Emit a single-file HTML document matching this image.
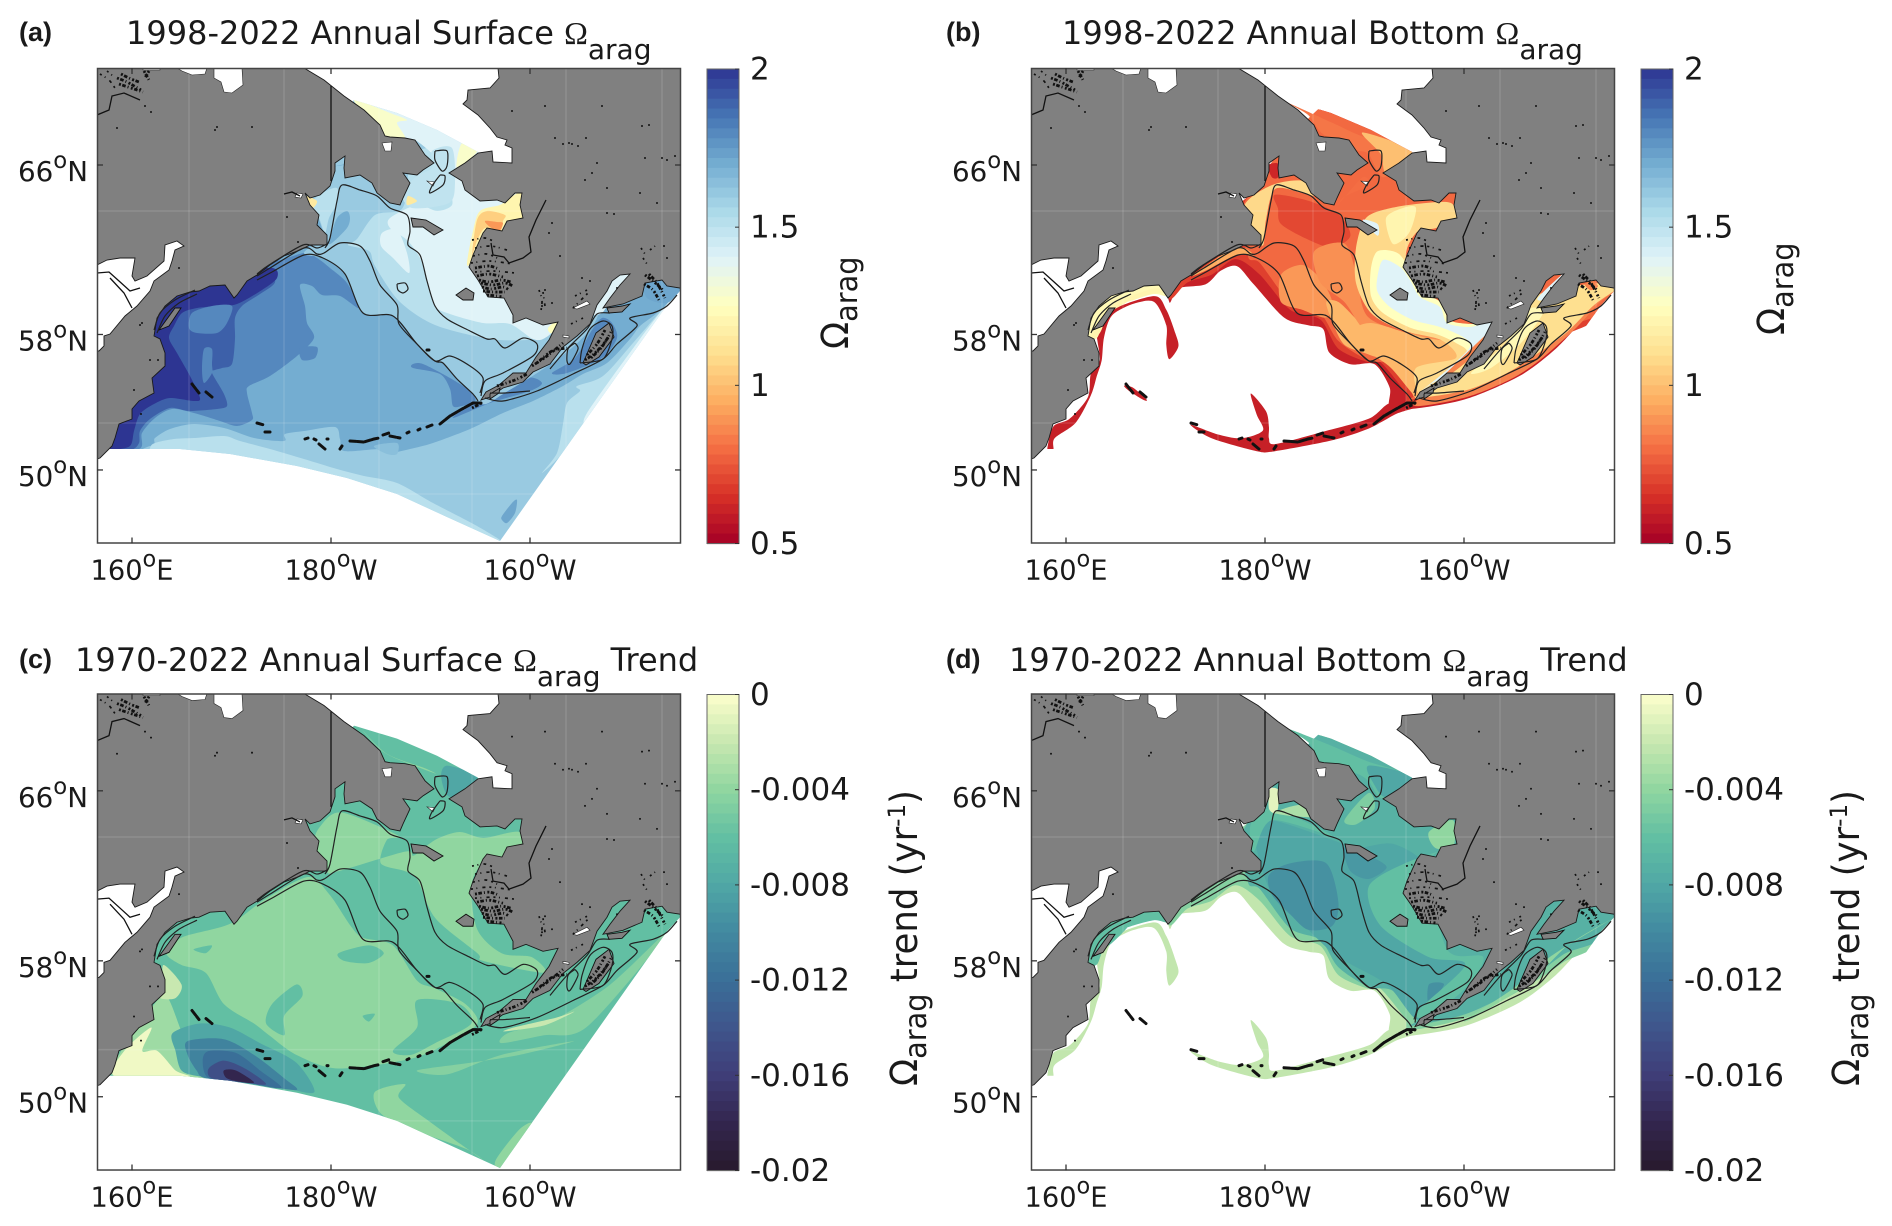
<!DOCTYPE html>
<html lang="en">
<head>
<meta charset="utf-8">
<title>Bering Sea aragonite saturation maps</title>
<style>
html,body{margin:0;padding:0;background:#fff;}
svg{display:block;}
text{font-family:"DejaVu Sans","Liberation Sans",sans-serif;fill:#1a1a1a;}
.panel-tag{font-family:"Liberation Sans",sans-serif;font-weight:700;font-size:27px;}
.omega{font-family:"Liberation Serif",serif;}
</style>
</head>
<body>
<svg id="figure" xmlns="http://www.w3.org/2000/svg" width="1892" height="1226" viewBox="0 0 1892 1226">
<defs id="defs"></defs>
</svg>
<script>
// ---------- axis data ----------
const latTicks = [66, 58, 50];
const lonTicks = [160, 180, 200];
const lonTickLabels = ['160', '180', '160'];
const lonTickSuffix = ['E', 'W', 'W'];
const omegaTicks = [2, 1.5, 1, 0.5];
const omegaTickLabels = ['2', '1.5', '1', '0.5'];
const trendTicks = [0, -0.004, -0.008, -0.012, -0.016, -0.02];
const trendTickLabels = ['0', '-0.004', '-0.008', '-0.012', '-0.016', '-0.02'];

// ---------- colormaps ----------
const omegaStopValues = [0.5, 0.65, 0.8, 0.95, 1.1, 1.25, 1.4, 1.55, 1.7, 1.85, 2.0];
const omegaStopColors = ['#a50026', '#d73027', '#f46d43', '#fdae61', '#fee090', '#ffffbf', '#e0f3f8', '#abd9e9', '#74add1', '#4575b4', '#2d3592'];
const trendStopValues = [0, -0.002, -0.004, -0.006, -0.008, -0.01, -0.012, -0.014, -0.016, -0.018, -0.02];
const trendStopColors = ['#fdfecc', '#c8e8b0', '#90d6a0', '#62bfa3', '#50a7a5', '#4289a0', '#3a6f98', '#3f558c', '#3f3d78', '#33264e', '#281a2c'];

// ---------- geography (map units, pixels from the panel corner) ----------
const seaOutline = [[207,0],[401,0],[402,10],[393,20],[371,22],[370,32],[366,36],[381,47],[393,60],[400,69],[410,72],[408,77],[415,80],[415,95],[396,94],[395,83],[381,85],[368,95],[352,105],[365,113],[368,122],[383,133],[400,132],[408,135],[418,125],[425,125],[423,137],[426,150],[410,153],[405,163],[390,160],[386,165],[376,187],[372,199],[381,212],[391,229],[407,230],[416,247],[416,255],[429,250],[446,257],[461,254],[452,272],[439,289],[429,305],[416,305],[402,317],[389,324],[384,332],[393,329],[406,320],[426,314],[436,304],[453,296],[466,279],[480,268],[493,256],[496,248],[500,237],[510,223],[515,213],[523,207],[533,206],[523,217],[513,230],[506,240],[526,236],[545,228],[548,215],[565,212],[570,218],[583,220],[584,222],[584,475],[0,475],[0,391],[3,390],[15,378],[18,370],[22,356],[35,351],[35,341],[42,333],[57,325],[55,310],[68,298],[68,285],[63,271],[57,268],[60,250],[68,238],[80,228],[93,224],[102,223],[113,218],[128,217],[137,230],[140,227],[150,213],[160,207],[173,197],[187,188],[203,182],[213,177],[230,177],[230,167],[220,157],[222,147],[213,137],[208,125],[213,130],[223,127],[233,118],[238,103],[238,95],[248,88],[247,100],[248,110],[263,107],[275,115],[280,125],[293,135],[303,137],[306,130],[313,115],[306,105],[320,107],[326,102],[337,95],[328,87],[318,72],[308,70],[293,69],[288,68],[283,57],[267,42],[247,28],[227,12]];
const modelDomain = [[0,381],[83,381],[133,386],[200,398],[250,410],[300,426],[350,449],[403,473],[490,350],[570,237],[584,222],[584,150],[450,125],[385,100],[381,84],[340,62],[300,45],[257,32],[200,100],[100,200],[0,300]];
const okhotskSea = [[0,197],[10,192],[23,190],[38,190],[35,208],[38,213],[50,208],[67,193],[68,177],[80,173],[87,178],[78,182],[75,193],[72,202],[57,213],[53,223],[40,238],[28,248],[13,266],[7,268],[7,278],[2,283],[0,283]];
const whiteLakes = [[[117,0],[145,0],[146,17],[135,25],[127,24],[124,14],[117,10]],[[80,0],[110,0],[108,6],[95,7],[85,3]],[[46,0],[63,0],[63,2],[46,2]],[[285,75],[295,74],[294,83],[288,83]],[[200,125],[206,126],[204,130],[198,129]],[[330,113],[338,114],[336,118]],[[476,240],[490,233],[493,236],[480,241]],[[466,267],[472,268],[472,270],[466,269]]];
const islandOutlines = [[[314,150],[329,152],[346,162],[337,167],[326,159],[316,159]],[[359,227],[369,220],[377,225],[376,232],[366,232]],[[62,262],[78,240],[84,240],[72,258]],[[486,295],[499,265],[512,255],[517,269],[502,289],[489,297]],[[510,240],[525,238],[533,236],[525,244],[512,245]],[[393,326],[403,320],[402,325],[393,331]]];
const islandChains = [[[160,355],[167,357]],[[168,364],[173,364]],[[208,371],[211,370]],[[222,376],[228,381]],[[253,373],[267,374],[277,371],[282,370]],[[286,367],[292,365]],[[293,368],[303,370]],[[310,365],[312,364]],[[321,362],[323,361]],[[330,359],[335,357]],[[343,356],[353,348],[365,341],[376,335],[384,335]],[[95,316],[102,325]],[[109,324],[115,329]],[[330,282],[332,282]],[[217,371],[219,372]],[[230,371],[231,371]],[[243,381],[245,378]]];
const denseClutter = [[[382,212],[392,214],[404,212],[414,214]],[[384,215],[396,217],[408,215],[416,218]],[[385,219],[394,221],[406,219],[412,222]],[[386,223],[396,224],[408,224]],[[390,227],[400,228],[406,229]],[[380,208],[392,206],[406,209]],[[378,200],[392,198],[402,201]],[[488,292],[498,285],[508,274],[514,264]],[[490,287],[500,276],[508,262]],[[494,290],[504,280],[512,268]],[[548,207],[556,213],[566,222]],[[552,206],[560,215],[568,230]],[[547,216],[556,222],[562,232]],[[20,10],[30,14],[44,22]],[[24,6],[34,11],[42,14]],[[22,16],[34,20],[46,24]],[[47,3],[52,12]],[[52,3],[48,10]],[[400,318],[418,312],[430,306]],[[435,298],[450,288],[466,275]],[[440,295],[455,283],[470,280]],[[375,340],[385,335]]];
const sparseClutter = [[[375,172],[388,170],[398,174]],[[378,180],[394,178],[410,182]],[[376,188],[390,186],[404,192]],[[374,195],[392,193],[416,196]],[[378,204],[396,203],[418,205]],[[442,222],[445,232],[444,243]],[[446,224],[448,238]],[[476,240],[484,232],[492,224]],[[478,228],[490,222]],[[474,256],[486,250]],[[3,6],[12,12],[18,20]],[[10,3],[16,8]],[[544,180],[548,186]],[[553,182],[558,178]],[[546,190],[550,196]]];
const inlandLines = [[[0,47],[12,42],[15,28],[27,25],[43,32]],[[449,132],[439,152],[432,169],[434,184],[426,190],[412,195],[407,189],[396,187],[394,175]],[[234,18],[234,113]],[[187,126],[195,124],[203,128]],[[0,205],[12,204],[22,213],[33,223],[43,220]],[[13,210],[27,225],[35,240]]];
const specks = [[20,60],[48,38],[54,44],[118,62],[120,59],[155,59],[190,149],[201,174],[82,200],[45,255],[43,257],[61,292],[53,292],[37,322],[44,346],[415,43],[448,38],[505,38],[545,58],[552,57],[458,70],[466,76],[472,75],[475,76],[481,78],[489,70],[500,95],[488,112],[495,105],[510,120],[543,125],[560,135],[510,145],[517,146],[565,90],[570,92],[578,88],[548,90],[585,100],[455,155],[452,165],[463,188],[567,178],[570,190],[520,220],[485,210],[493,213],[448,222],[445,238],[455,235]];
const isobath200 = [[160,212],[175,204],[207,187],[226,190],[248,206],[266,245],[296,248],[320,276],[338,293],[346,295],[360,311],[376,326],[381,333]];
const isobath100 = [[160,208],[173,200],[207,180],[220,186],[227,185],[243,175],[263,178],[273,193],[283,217],[300,237],[302,256],[320,276],[338,293],[353,288],[373,298],[386,310],[383,325]];
const isobath50 = [[228,180],[233,170],[240,133],[245,117],[263,122],[280,128],[293,140],[310,147],[313,163],[311,177],[323,187],[330,213],[338,238],[350,251],[373,263],[390,271],[398,271],[408,280],[426,270],[440,276],[436,288],[406,305],[388,313],[384,328]];
const shelfLines = [[[388,330],[406,333],[440,323],[476,306],[506,291],[520,276],[540,258],[533,250],[556,245],[570,238],[580,227]],[[393,325],[408,325],[433,323]],[[483,295],[506,291],[515,271],[515,258],[506,253],[493,261],[485,281],[483,295]],[[478,275],[481,281],[473,296],[470,293],[471,281],[478,275]],[[453,301],[470,281],[490,261],[500,246],[513,245]],[[338,83],[350,83],[350,98],[345,103],[338,92],[338,83]],[[343,107],[348,108],[346,117],[333,125],[335,118],[343,107]],[[57,262],[63,245],[78,232],[98,222]],[[60,265],[68,248],[82,235],[100,226]],[[160,206],[172,197],[206,177],[220,180],[230,176]],[[300,216],[308,215],[311,221],[306,225],[301,222],[300,216]]];
const gridMeridians = [92, 187, 282, 375, 469, 565];
const gridParallels = [143, 355, 426];

// ---------- filled contour bands : Ω surface (map units) ----------
const surfaceBands = [
 {v:1.6,p:[[0,381],[403,475],[584,222],[584,100],[200,0],[0,200]]},
 {v:1.7,p:[[53,378],[58,370],[73,361],[97,356],[127,360],[157,370],[187,373],[188,366],[207,363],[238,359],[243,371],[247,383],[283,381],[293,385],[313,381],[336,375],[373,361],[406,345],[436,333],[466,318],[486,306],[510,295],[533,271],[543,258],[560,245],[584,222],[584,150],[400,100],[230,100],[0,200],[0,381]]},
 {v:1.8,p:[[42,381],[45,365],[58,350],[75,341],[97,345],[123,353],[140,358],[155,352],[155,345],[150,325],[152,318],[173,308],[200,288],[217,270],[210,255],[208,238],[203,217],[215,218],[225,227],[243,228],[262,240],[250,215],[233,200],[220,190],[207,185],[170,195],[100,200],[0,250],[0,381]]},
 {v:1.9,p:[[33,382],[42,375],[43,363],[53,351],[73,340],[92,343],[120,341],[130,338],[127,326],[115,305],[118,302],[125,300],[135,296],[138,271],[138,250],[145,238],[160,228],[175,218],[178,212],[170,203],[130,205],[60,225],[0,300],[0,382]]},
 {v:2.0,p:[[15,382],[33,378],[37,363],[43,346],[57,336],[73,330],[97,333],[103,330],[93,308],[80,285],[72,270],[77,258],[85,245],[100,240],[120,238],[140,236],[165,222],[180,210],[175,200],[130,205],[60,225],[0,300],[0,382]]},
 {v:1.8,p:[[92,260],[95,245],[115,238],[135,238],[130,255],[120,265],[100,265]]},
 {v:1.8,p:[[107,281],[115,281],[115,296],[115,305],[107,315],[105,301]]},
 {v:1.8,p:[[203,280],[220,279],[218,290],[205,292]]},
 {v:1.8,p:[[316,296],[326,296],[353,310],[376,325],[378,333],[365,338],[356,338],[353,321],[343,306],[316,300]]},
 {v:1.8,p:[[356,350],[393,335],[433,323],[445,315],[430,310],[395,330],[375,335]]},
 {v:1.8,p:[[455,305],[478,290],[495,262],[505,250],[515,255],[520,270],[505,290],[470,305]]},
 {v:1.6,p:[[207,185],[226,190],[248,206],[266,245],[296,248],[320,276],[338,293],[346,295],[360,311],[376,326],[381,333],[400,330],[500,250],[500,100],[230,100],[225,165]]},
 {v:1.7,p:[[233,170],[240,150],[250,143],[253,150],[250,160],[235,175],[230,175]]},
 {v:1.51,p:[[302,143],[278,147],[260,171],[251,177],[272,183],[278,198],[302,233],[338,257],[393,271],[429,272],[441,268],[459,253],[500,200],[500,100],[330,80],[310,130]]},
 {v:1.51,p:[[213,137],[225,125],[240,120],[240,135],[232,150],[228,165],[222,150]]},
 {v:1.4,p:[[293,160],[310,172],[323,190],[330,213],[338,238],[353,246],[386,255],[413,256],[436,271],[448,270],[463,255],[500,200],[440,110],[355,110],[353,120],[355,137],[340,143],[320,137],[293,150]]},
 {v:1.4,p:[[285,165],[300,162],[310,185],[312,205],[296,190],[284,178]]},
 {v:1.4,p:[[257,32],[300,45],[340,62],[381,82],[352,105],[340,90],[318,72],[300,70],[285,60]]},
 {v:1.49,p:[[335,83],[355,80],[358,115],[352,135],[315,140],[305,125],[320,108],[335,100]]},
 {v:1.28,p:[[257,32],[293,45],[310,52],[300,55],[308,70],[290,70],[280,58]]},
 {v:1.28,p:[[365,75],[381,82],[360,100]]},
 {v:1.2,p:[[370,197],[376,163],[383,143],[403,137],[410,132],[421,125],[426,127],[423,137],[426,150],[408,157],[403,165],[388,162],[380,187]]},
 {v:1.05,p:[[380,152],[390,143],[408,147],[406,153],[403,163],[388,160],[380,173],[375,187]]},
 {v:0.9,p:[[388,153],[400,154],[406,155],[402,163],[393,159]]},
 {v:1.25,p:[[451,260],[463,250],[455,265]]},
 {v:1.15,p:[[208,128],[220,133],[215,140]]},
 {v:1.15,p:[[311,128],[320,133],[310,137]]},
 {v:1.51,p:[[570,236],[536,275],[506,308],[480,318],[483,323],[470,335],[466,356],[460,385],[445,405],[470,380],[530,300],[584,222]]},
 {v:1.4,p:[[570,236],[540,275],[490,345],[495,350],[550,275],[584,222]]},
 {v:1.51,p:[[53,380],[58,375],[77,371],[97,370],[127,368],[143,373],[173,381],[207,391],[240,401],[267,408],[300,415],[336,435],[380,458],[405,475],[350,460],[300,440],[200,410],[100,395],[50,395]]},
 {v:1.64,p:[[277,378],[300,375],[300,386],[290,386]]},
 {v:1.72,p:[[405,448],[415,435],[420,432],[418,445],[410,455],[405,452]]},
 {v:1.4,p:[[495,245],[510,223],[520,207],[533,206],[515,230],[505,245]]},
 {v:1.72,p:[[548,215],[570,212],[584,220],[570,235],[550,230]]}
];

// ---------- shared bottom-layer outlines (traced units, panels b and d) ----------
const shelfOuter = [[370,770],[385,735],[430,725],[455,690],[482,678],[510,725],[560,810],[600,830],[625,840],[635,900],[670,930],[710,930],[735,990],[735,1040],[770,1045],[860,1020],[950,960],[1010,890],[1060,810],[1110,755],[1110,300],[700,200],[500,500],[370,650]];
const aleutianArea = [[405,1085],[440,1120],[515,1153],[545,1153],[640,1125],[700,1095],[745,1058],[775,1040],[735,1030],[700,1070],[620,1105],[545,1135],[535,1120],[535,1090],[530,1050],[505,1005],[515,1060],[525,1100],[490,1120],[450,1110]];
const kamchatkaArm = [[168,1150],[178,1090],[205,1070],[235,1015],[240,955],[255,920],[250,850],[262,825],[275,790],[345,755],[365,790],[380,850],[385,885],[370,917],[365,880],[365,830],[345,770],[310,775],[275,805],[262,860],[258,920],[250,960],[240,1010],[215,1080],[180,1120],[178,1150]];
const commanderPatch = [[295,985],[310,990],[332,1020],[328,1022],[305,1000]];
const shelfInner = [[370,762],[400,720],[440,700],[480,660],[520,700],[570,790],[620,815],[650,890],[700,925],[720,925],[760,1000],[770,1030],[860,1000],[950,930],[1020,860],[1110,750],[1110,300],[700,200],[500,500],[370,650]];
const shelfCore = [[500,650],[520,670],[570,770],[620,800],[650,870],[700,920],[740,930],[780,1000],[770,1020],[860,990],[940,930],[1020,840],[1110,745],[1110,300],[700,200],[500,500]];
const karaginskyGulf = [[57,270],[60,248],[68,236],[80,226],[100,221],[128,216],[136,228],[123,226],[100,232],[81,240],[72,255],[66,270]];

// ---------- filled contour bands : Ω bottom (traced units unless map:true) ----------
const bottomBands = [
 {v:0.6,p:shelfOuter},
 {v:0.6,p:aleutianArea},
 {v:0.6,p:kamchatkaArm},
 {v:0.6,p:commanderPatch},
 {v:1.22,map:true,p:karaginskyGulf},
 {v:0.69,p:shelfInner},
 {v:0.79,p:shelfCore},
 {v:0.71,p:[[545,495],[600,510],[650,545],[670,600],[640,630],[600,610],[555,570],[550,530]]},
 {v:0.9,p:[[555,700],[590,675],[620,710],[640,770],[630,810],[590,790],[555,770]]},
 {v:0.98,p:[[630,770],[650,770],[680,815],[700,850],[770,850],[860,870],[870,890],[830,950],[780,1010],[770,1000],[730,925],[700,905],[660,880],[640,820]]},
 {v:0.88,p:[[610,640],[660,620],[680,700],[700,810],[790,860],[860,875],[860,880],[770,850],[700,850],[660,770],[620,720]]},
 {v:0.98,map:true,p:[[320,265],[340,255],[385,268],[430,280],[440,285],[415,305],[390,326],[384,328],[360,300],[340,285]]},
 {v:1.08,map:true,p:[[335,150],[360,140],[395,135],[420,135],[426,150],[405,160],[385,165],[375,190],[395,225],[420,260],[461,254],[440,290],[400,322],[388,327],[385,300],[425,290],[410,272],[370,262],[340,245],[325,215],[325,180]]},
 {v:1.2,map:true,p:[[355,150],[372,140],[385,140],[378,165],[362,176]]},
 {v:1.25,map:true,p:[[340,200],[347,183],[368,186],[385,212],[395,225],[412,236],[418,252],[440,256],[461,254],[452,278],[430,305],[405,318],[389,326],[415,308],[436,285],[425,275],[405,266],[380,260],[352,245],[340,228]]},
 {v:1.4,map:true,p:[[346,212],[352,192],[369,199],[379,212],[389,229],[409,239],[416,255],[439,259],[461,254],[449,275],[426,302],[402,315],[389,324],[416,302],[439,279],[432,269],[409,259],[382,252],[359,239],[347,225]]},
 {v:1.4,p:[[690,560],[715,570],[715,600]]},
 {v:0.82,p:[[565,258],[640,310],[690,345],[775,385],[725,450],[700,390],[680,380],[625,340],[600,290]]},
 {v:1.0,p:[[690,335],[775,385],[730,440],[720,390]]},
 {v:0.8,p:[[650,520],[690,450],[700,470],[660,500]]},
 {v:0.62,p:[[533,420],[550,415],[550,450],[540,450]]},
 {v:1.08,p:[[495,520],[540,470],[595,460],[640,510],[590,490],[545,480],[530,560],[525,625],[505,590]]},
 {v:1.2,p:[[240,860],[265,790],[300,755],[300,770],[270,800],[255,850]]},
 {v:1.2,p:[[290,765],[345,735],[360,745],[340,750],[300,770]]},
 {v:0.95,p:[[410,700],[480,630],[510,650],[480,650],[430,690]]},
 {v:0.85,map:true,p:[[384,338],[436,329],[480,311],[509,292],[545,260],[570,233],[584,224],[584,215],[500,230],[400,320]]},
 {v:1.1,map:true,p:[[385,330],[436,322],[476,305],[503,288],[535,265],[562,238],[580,225],[584,222],[570,215],[500,230],[440,290],[400,320]]},
 {v:1.22,map:true,p:[[440,305],[470,280],[490,255],[500,240],[512,245],[490,275],[460,300]]},
 {v:0.85,p:[[1058,725],[1070,715],[1080,730],[1068,740]]},
 {v:1.4,p:[[980,760],[1020,700],[1028,700],[995,760]]}
];

// ---------- filled contour bands : surface trend (traced units) ----------
const surfaceTrendBands = [
 {v:-0.006,p:[[160,1190],[830,1425],[1130,780],[1130,200],[500,200],[160,700]]},
 {v:-0.004,p:[[275,870],[300,830],[380,795],[440,730],[510,675],[545,720],[580,800],[600,830],[650,850],[690,940],[720,960],[770,1000],[790,1050],[740,1100],[680,1140],[560,1165],[490,1130],[445,1080],[420,1050],[370,1000],[340,920],[300,900]]},
 {v:-0.006,p:[[560,870],[610,850],[635,870],[610,895],[570,890]]},
 {v:-0.006,p:[[450,1000],[490,950],[500,980],[470,1030],[470,1080],[440,1050]]},
 {v:-0.006,p:[[690,990],[760,1000],[780,1050],[720,1100],[680,1130],[650,1120],[690,1060]]},
 {v:-0.006,p:[[320,860],[350,850],[340,870]]},
 {v:-0.006,p:[[600,1030],[620,1025],[610,1045]]},
 {v:-0.004,p:[[520,590],[530,545],[565,510],[660,570],[640,580],[630,640],[670,660],[690,680],[720,780],[790,870],[800,890],[900,920],[880,880],[830,870],[790,810],[780,700],[800,640],[860,620],[860,560],[800,575],[760,560],[720,580],[685,620],[670,610],[560,660],[540,660]]},
 {v:-0.0045,p:[[840,1075],[900,1050],[930,1030],[1010,950],[1100,820],[1090,850],[970,1060],[900,1080],[830,1100]]},
 {v:-0.002,p:[[835,1070],[900,1055],[950,1020],[920,1035],[850,1060]]},
 {v:-0.004,p:[[620,1225],[670,1205],[660,1240],[710,1300],[750,1345],[800,1400],[770,1370],[680,1320],[630,1280]]},
 {v:-0.004,p:[[820,1400],[860,1320],[880,1310],[830,1420]]},
 {v:-0.0045,p:[[740,1180],[830,1130],[950,1095],[860,1130],[780,1150],[690,1170]]},
 {v:-0.0035,p:[[190,1185],[200,1120],[250,1010],[275,980],[300,1070],[320,1130],[340,1190]]},
 {v:-0.002,p:[[270,900],[300,950],[290,985],[265,985],[270,960]]},
 {v:-0.0005,p:[[190,1185],[205,1120],[250,1060],[235,1120],[260,1120],[290,1170],[310,1187]]},
 {v:-0.008,p:[[290,1120],[285,1075],[330,1050],[380,1060],[430,1100],[490,1150],[520,1225],[470,1215],[400,1195],[330,1185],[300,1170]]},
 {v:-0.0105,p:[[310,1130],[310,1095],[370,1090],[420,1130],[470,1190],[490,1220],[420,1205],[340,1190],[325,1170]]},
 {v:-0.012,p:[[335,1145],[345,1120],[390,1125],[430,1170],[465,1215],[400,1200],[345,1190]]},
 {v:-0.0145,p:[[345,1165],[370,1145],[405,1165],[440,1205],[400,1200],[350,1190]]},
 {v:-0.018,p:[[370,1170],[390,1170],[420,1200],[400,1200],[375,1190]]},
 {v:-0.008,p:[[740,390],[790,420],[745,470],[730,420]]},
 {v:-0.004,p:[[600,300],[640,360],[700,395],[720,410],[660,375],[630,350]]}
];

// ---------- filled contour bands : bottom trend (traced units; oy 172 reuses panel-b outlines) ----------
const bottomTrendBands = [
 {v:-0.0022,p:shelfOuter,oy:172},
 {v:-0.0022,p:aleutianArea,oy:172},
 {v:-0.0022,p:kamchatkaArm,oy:172},
 {v:-0.006,map:true,p:karaginskyGulf},
 {v:-0.0045,p:shelfInner,oy:172},
 {v:-0.0072,p:shelfCore,oy:172},
 {v:-0.008,p:[[510,560],[540,530],[640,580],[680,600],[740,590],[790,640],[760,720],[720,800],[830,880],[880,900],[820,1010],[780,1040],[730,950],[650,880],[600,810],[540,720]]},
 {v:-0.0095,p:[[535,670],[570,640],[630,640],[650,740],[640,800],[600,810],[570,770],[540,720]]},
 {v:-0.0095,p:[[800,950],[825,950],[800,1000]]},
 {v:-0.009,p:[[660,600],[700,620],[730,650],[700,680],[670,660]]},
 {v:-0.006,p:[[700,700],[760,640],[840,600],[800,640],[830,860],[890,880],[860,960],[800,1030],[780,1020],[860,900],[800,880],[720,800]]},
 {v:-0.006,p:[[505,540],[540,500],[640,570],[540,530],[510,610]]},
 {v:-0.004,p:[[800,560],[840,530],[840,600],[810,600]]},
 {v:-0.001,p:[[537,450],[552,455],[548,510],[535,500]]},
 {v:-0.003,p:[[545,510],[590,490],[620,520],[580,520]]},
 {v:-0.006,p:[[565,295],[640,340],[700,380],[775,420],[725,475],[700,430],[680,410],[625,385],[600,330]]},
 {v:-0.008,p:[[700,390],[775,420],[730,470],[710,440]]},
 {v:-0.0048,p:[[660,530],[700,460],[710,500],[680,540]]},
 {v:-0.004,p:[[860,1040],[940,960],[1000,880],[1100,785],[1030,850],[970,940],[880,1030]]},
 {v:-0.007,p:[[985,780],[1020,735],[1025,740],[990,800]]},
 {v:-0.006,p:[[260,840],[300,790],[300,805],[270,850]]}
];

// ---------- panel layout ----------
const panels = [
 {id:'a', x:97,  y:68,    h:475.5, bands:surfaceBands, ox:null, oy:null, scale:'omega', tag:'(a)', tagX:19, tagY:41, titleX:126, titleY:44, title:'1998-2022 Annual Surface ', tail:'', barX:707, lblX:18, cbLabelX:752, axisX:848, axisY:349},
 {id:'b', x:1031,y:68,    h:475.5, bands:bottomBands, ox:141, oy:172, scale:'omega', tag:'(b)', tagX:946, tagY:41, titleX:1062, titleY:44, title:'1998-2022 Annual Bottom ', tail:'', barX:1641, lblX:952, cbLabelX:1686, axisX:1784, axisY:335},
 {id:'c', x:97,  y:693.5, h:477, bands:surfaceTrendBands, ox:160, oy:208, scale:'trend', tag:'(c)', tagX:19, tagY:668, titleX:75, titleY:671, title:'1970-2022 Annual Surface ', tail:' Trend', barX:707, lblX:18, cbLabelX:752, axisX:917, axisY:1086},
 {id:'d', x:1031,y:693.5, h:477, bands:bottomTrendBands, ox:141, oy:208, scale:'trend', tag:'(d)', tagX:946, tagY:668, titleX:1009, titleY:671, title:'1970-2022 Annual Bottom ', tail:' Trend', barX:1641, lblX:952, cbLabelX:1686, axisX:1859, axisY:1086}
];
const plotW = 584, baseH = 475.5, barW = 32;
const traceSX = 1.656, traceSY = 2.567;

// ---------- helpers / axis functions ----------
const NS = 'http://www.w3.org/2000/svg';
const svg = document.getElementById('figure');
const defs = document.getElementById('defs');
function add(parent, tag, attrs, text) {
  const el = document.createElementNS(NS, tag);
  for (const k in attrs) el.setAttribute(k, attrs[k]);
  if (text !== undefined) el.textContent = text;
  parent.appendChild(el);
  return el;
}
function lerpHex(a, b, t) {
  const pa = [1,3,5].map(i => parseInt(a.substr(i,2),16));
  const pb = [1,3,5].map(i => parseInt(b.substr(i,2),16));
  return 'rgb(' + pa.map((c,i) => Math.round(c + (pb[i]-c)*t)).join(',') + ')';
}
function ramp(values, colors, v) {
  const asc = values[1] > values[0];
  for (let i = 0; i < values.length-1; i++) {
    const lo = values[i], hi = values[i+1];
    const inside = asc ? (v >= lo && v <= hi) : (v <= lo && v >= hi);
    if (inside) return lerpHex(colors[i], colors[i+1], (v-lo)/(hi-lo));
  }
  const atStart = asc ? v < values[0] : v > values[0];
  return atStart ? colors[0] : colors[colors.length-1];
}
function colorFor(scale, v) {
  return scale === 'omega' ? ramp(omegaStopValues, omegaStopColors, v) : ramp(trendStopValues, trendStopColors, v);
}
const lonX = lon => 35 + (lon - 160) * 9.95;
const latY = lat => { const t = 66 - lat; return 97 + 23.31*t - 0.2656*t*t; };
const cbarFrac = { omega: v => (2 - v) / 1.5, trend: v => (-v) / 0.02 };
function mapPath(pts, close) {
  return 'M' + pts.map(p => p[0].toFixed(1) + ' ' + p[1].toFixed(1)).join('L') + (close ? 'Z' : '');
}
function smoothPath(pts, closed) {
  const n = pts.length;
  const at = i => closed ? pts[(i + n) % n] : pts[Math.max(0, Math.min(n - 1, i))];
  let d = 'M' + pts[0][0].toFixed(1) + ' ' + pts[0][1].toFixed(1);
  const last = closed ? n : n - 1;
  for (let i = 0; i < last; i++) {
    const p0 = at(i-1), p1 = at(i), p2 = at(i+1), p3 = at(i+2);
    const k = 1/7;
    d += 'C' + (p1[0] + (p2[0]-p0[0])*k).toFixed(1) + ' ' + (p1[1] + (p2[1]-p0[1])*k).toFixed(1) + ' ' +
         (p2[0] - (p3[0]-p1[0])*k).toFixed(1) + ' ' + (p2[1] - (p3[1]-p1[1])*k).toFixed(1) + ' ' +
         p2[0].toFixed(1) + ' ' + p2[1].toFixed(1);
  }
  return d + (closed ? 'Z' : '');
}
function bandPath(band, panel) {
  const oy = band.oy !== undefined ? band.oy : panel.oy;
  if (band.map || panel.ox === null) return smoothPath(band.p, true);
  return smoothPath(band.p.map(p => [(p[0]-panel.ox)/traceSX, (p[1]-oy)/traceSY + 1]), true);
}

// ---------- shared clip paths ----------
const seaClip = add(defs, 'clipPath', {id:'sea-clip'});
add(seaClip, 'path', {d:mapPath(seaOutline, true)});
const domainClip = add(defs, 'clipPath', {id:'domain-clip'});
add(domainClip, 'path', {d:mapPath(modelDomain, true)});
const plotClip = add(defs, 'clipPath', {id:'plot-clip'});
add(plotClip, 'rect', {x:0, y:0, width:plotW, height:baseH});

// ---------- draw ----------
panels.forEach(panel => {
  const vs = panel.h / baseH;
  const root = add(svg, 'g', {});
  
  

  const tag = add(root, 'text', {x:panel.tagX, y:panel.tagY, class:'panel-tag'}, panel.tag);
  
  

  const title = add(root, 'text', {x:panel.titleX, y:panel.titleY, 'font-size':32});
  
  
  add(title, 'tspan', {}, panel.title);
  add(title, 'tspan', {class:'omega'}, 'Ω');
  add(title, 'tspan', {dy:15, 'font-size':28}, 'arag');
  if (panel.tail) add(title, 'tspan', {dy:-15}, '\u00a0Trend');

  const plot = add(root, 'g', {transform:'translate(' + panel.x + ' ' + panel.y + ') scale(1 ' + vs.toFixed(4) + ')'});
  
  
  const inner = add(plot, 'g', {'clip-path':'url(#plot-clip)'});

  const land = add(inner, 'rect', {x:0, y:0, width:plotW, height:baseH, fill:'#808080'});
  
  

  const sea = add(inner, 'path', {d:mapPath(seaOutline, true), fill:'#fff'});
  
  

  const outer = add(inner, 'g', {'clip-path':'url(#sea-clip)'});
  const field = add(outer, 'g', {'clip-path':'url(#domain-clip)'});
  
  
  panel.bands.forEach(band => {
    const el = add(field, 'path', {d:bandPath(band, panel), fill:colorFor(panel.scale, band.v)});
    
    
  });

  gridMeridians.forEach(u => {
    const el = add(inner, 'line', {x1:u, x2:u, y1:0, y2:baseH, stroke:'#fff', 'stroke-opacity':0.12, 'stroke-width':1.5});
    
    
  });
  gridParallels.forEach(v => {
    const el = add(inner, 'line', {x1:0, x2:plotW, y1:v, y2:v, stroke:'#fff', 'stroke-opacity':0.12, 'stroke-width':1.5});
    
    
  });

  const coast = add(inner, 'path', {d:mapPath(seaOutline, true), fill:'none', stroke:'#1a1a1a', 'stroke-width':0.9});
  
  

  const okhotsk = add(inner, 'path', {d:mapPath(okhotskSea, true), fill:'#fff', stroke:'#1a1a1a', 'stroke-width':0.9});
  
  

  whiteLakes.forEach(pts => {
    const el = add(inner, 'path', {d:mapPath(pts, true), fill:'#fff', stroke:'#222', 'stroke-width':0.6});
    
    
  });
  islandOutlines.forEach(pts => {
    const el = add(inner, 'path', {d:mapPath(pts, true), fill:'#808080', stroke:'#111', 'stroke-width':0.9});
    
    
  });
  islandChains.forEach(pts => {
    const el = add(inner, 'path', {d:mapPath(pts, false), fill:'none', stroke:'#111', 'stroke-width':3, 'stroke-dasharray':'6 1.5', 'stroke-linecap':'round'});
    
    
  });
  denseClutter.forEach(pts => {
    const el = add(inner, 'path', {d:smoothPath(pts, false), fill:'none', stroke:'#111', 'stroke-width':2.8, 'stroke-dasharray':'2 1.5 3.5 2 1 2.5'});
    
    
  });
  sparseClutter.forEach(pts => {
    const el = add(inner, 'path', {d:smoothPath(pts, false), fill:'none', stroke:'#111', 'stroke-width':1.7, 'stroke-dasharray':'2 3.5 1 5 3 4'});
    
    
  });
  inlandLines.forEach(pts => {
    const el = add(inner, 'path', {d:mapPath(pts, false), fill:'none', stroke:'#111', 'stroke-width':1.3});
    
    
  });
  specks.forEach(p => {
    const el = add(inner, 'circle', {cx:p[0], cy:p[1], r:1, fill:'#111'});
    
    
  });

  [isobath200, isobath100, isobath50].concat(shelfLines).forEach(pts => {
    const el = add(inner, 'path', {d:smoothPath(pts, false), fill:'none', stroke:'#222', 'stroke-width':1.2, 'stroke-linejoin':'round'});
    
    
  });

  const box = add(plot, 'rect', {x:0.5, y:0.5, width:plotW-1, height:baseH-1, fill:'none', stroke:'#444', 'stroke-width':1.5});
  
  

  lonTicks.forEach((lon, i) => {
    const u = lonX(lon);
    const tb = add(plot, 'line', {x1:u, x2:u, y1:baseH, y2:baseH-6, stroke:'#333', 'stroke-width':1.3});
    
    
    const tt = add(plot, 'line', {x1:u, x2:u, y1:0, y2:6, stroke:'#333', 'stroke-width':1.3});
    
    
    const labelLen = lonTickSuffix[i] === 'W' ? 93 : 83;
    const label = add(root, 'text', {x:panel.x + u - labelLen/2, y:panel.y + panel.h + 36, 'font-size':28, textLength:labelLen, lengthAdjust:'spacingAndGlyphs'});
    
    
    add(label, 'tspan', {}, lonTickLabels[i]);
    add(label, 'tspan', {dy:-13, 'font-size':23}, 'o');
    add(label, 'tspan', {dy:13}, lonTickSuffix[i]);
  });
  latTicks.forEach(lat => {
    const v = latY(lat);
    const tl = add(plot, 'line', {x1:0, x2:6, y1:v, y2:v, stroke:'#333', 'stroke-width':1.3});
    
    
    const tr = add(plot, 'line', {x1:plotW, x2:plotW-6, y1:v, y2:v, stroke:'#333', 'stroke-width':1.3});
    
    
    const label = add(root, 'text', {x:panel.lblX, y:panel.y + v*vs + 16, 'font-size':28, textLength:70, lengthAdjust:'spacingAndGlyphs'});
    
    
    add(label, 'tspan', {}, String(lat));
    add(label, 'tspan', {dy:-13, 'font-size':23}, 'o');
    add(label, 'tspan', {dy:13}, 'N');
  });

  // colour bar
  const barH = panel.h - 1;
  const bar = add(root, 'g', {transform:'translate(' + panel.barX + ' ' + (panel.y + 1) + ')'});
  
  
  const levels = 48;
  const lo = panel.scale === 'omega' ? 2 : 0;
  const step = panel.scale === 'omega' ? -1.5/levels : -0.02/levels;
  const fy = v => cbarFrac[panel.scale](v) * barH;
  for (let i = 0; i < levels; i++) {
    const vTop = lo + step*i, vBot = lo + step*(i+1);
    const y0 = fy(vTop), y1 = fy(vBot);
    const cell = add(bar, 'rect', {x:0, y:y0, width:barW, height:y1-y0+0.6, fill:colorFor(panel.scale, (vTop+vBot)/2)});
    
    
  }
  const frame = add(bar, 'rect', {x:0, y:0, width:barW, height:barH, fill:'none', stroke:'#666', 'stroke-width':1});
  
  
  const tickVals = panel.scale === 'omega' ? omegaTicks : trendTicks;
  const tickText = panel.scale === 'omega' ? omegaTickLabels : trendTickLabels;
  tickVals.forEach((val, i) => {
    const y = fy(val);
    const t = add(bar, 'line', {x1:barW-4, x2:barW, y1:y, y2:y, stroke:'#333', 'stroke-width':1});
    
    
    const lab = add(root, 'text', {x:panel.cbLabelX - 2, y:panel.y + 1 + y + 10.5, 'font-size':31}, tickText[i]);
    
    
  });

  // rotated colour-bar title
  const axisTitle = add(root, 'text', {transform:'translate(' + panel.axisX + ' ' + panel.axisY + ') rotate(-90) scale(0.96 1)', 'font-size':37});
  
  
  add(axisTitle, 'tspan', {}, 'Ω');
  add(axisTitle, 'tspan', {dy:9, 'font-size':30}, 'arag');
  if (panel.scale === 'trend') {
    add(axisTitle, 'tspan', {dy:-9}, '\u00a0trend (yr');
    add(axisTitle, 'tspan', {dy:-12, 'font-size':24}, '-1');
    add(axisTitle, 'tspan', {dy:12}, ')');
  }
});
</script>
</body>
</html>
